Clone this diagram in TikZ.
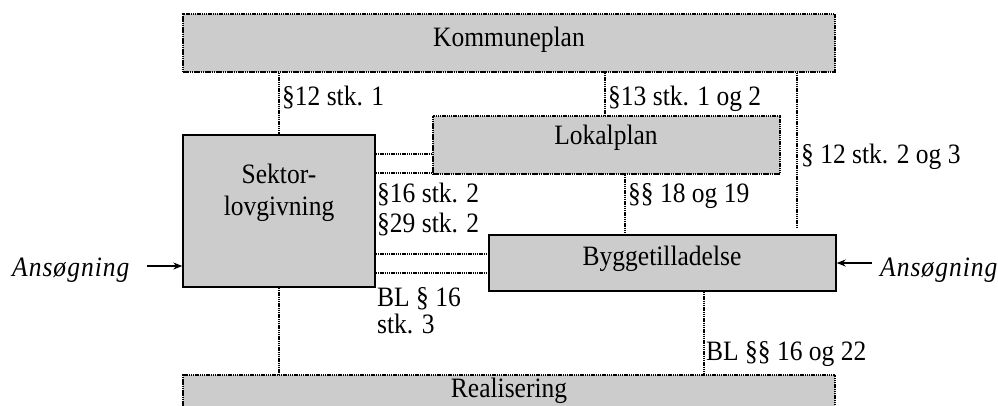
\documentclass[tikz,border=0pt]{standalone}
\usepackage{fontspec}
\setmainfont{Liberation Serif}
\usetikzlibrary{arrows.meta}
\definecolor{boxgray}{RGB}{204,204,204}
\newcommand{\vstretch}[1]{\scalebox{1}[1.1]{#1}}
\tikzset{
  dotbox/.style={draw, fill=boxgray, line width=1.4pt, dash pattern=on 1.5pt off 0.7pt, inner sep=0pt},
  solidbox/.style={draw, fill=boxgray, line width=1.4pt, inner sep=0pt},
  conn/.style={line width=1.1pt, dash pattern=on 1.4pt off 0.8pt},
  arr/.style={line width=1.2pt, -{Stealth[length=9pt,width=7pt]}},
  txt/.style={anchor=base, inner sep=0pt, font=\fontsize{25.5}{30}\selectfont},
  ltxt/.style={anchor=base west, inner sep=0pt, font=\fontsize{25.5}{30}\selectfont},
  itxt/.style={anchor=base west, inner sep=0pt, font=\fontsize{25.5}{30}\selectfont\itshape\addfontfeature{LetterSpace=4}},
}
\begin{document}
\begin{tikzpicture}[x=1pt,y=-1pt]
\useasboundingbox (0,0) rectangle (998,405);
% boxes
\node[dotbox, minimum width=652pt, minimum height=58pt] (komm) at (509,43) {};
\node[dotbox, minimum width=347pt, minimum height=58pt] (lokal) at (606.5,145) {};
\node[solidbox, minimum width=192pt, minimum height=152pt] (sekt) at (279,211) {};
\node[solidbox, minimum width=347pt, minimum height=56pt] (bygg) at (662.5,263) {};
\node[dotbox, minimum width=652pt, minimum height=56pt] (real) at (509,403) {};
% box texts
\node[txt] (tkomm) at (509,46) {\vstretch{Kommuneplan}};
\node[txt] (tlokal) at (606,144) {\vstretch{Lokalplan}};
\node[txt] (tsekt1) at (279,183) {\vstretch{Sektor-}};
\node[txt] (tsekt2) at (279,215) {\vstretch{lovgivning}};
\node[txt] (tbygg) at (662,265) {\vstretch{Byggetilladelse}};
\node[txt] (treal) at (509,397) {\vstretch{Realisering}};
% coordinates for vertical connectors
\coordinate (x605) at (605,0);
\coordinate (x625) at (625,0);
\coordinate (x797) at (797,0);
\coordinate (x704) at (704,0);
\coordinate (e797) at (797,227);
% connectors
\draw[conn] (komm.south -| sekt.north) -- (sekt.north);
\draw[conn] (komm.south -| x605) -- (lokal.north -| x605);
\draw[conn] (komm.south -| x797) -- (e797);
\draw[conn] (lokal.south -| x625) -- (bygg.north -| x625);
\draw[conn] (sekt.south) -- (real.north -| sekt.south);
\draw[conn] (bygg.south -| x704) -- (real.north -| x704);
\coordinate (y154) at (0,154);
\coordinate (y173) at (0,173);
\coordinate (y254) at (0,254);
\coordinate (y273) at (0,273);
\draw[conn] (sekt.east |- y154) -- (lokal.west |- y154);
\draw[conn] (sekt.east |- y173) -- (lokal.west |- y173);
\draw[conn] (sekt.east |- y254) -- (bygg.west |- y254);
\draw[conn] (sekt.east |- y273) -- (bygg.west |- y273);
% labels
\node[ltxt] (l1) at (282,105) {\vstretch{§12 stk. 1}};
\node[ltxt] (l2) at (608,105) {\vstretch{§13 stk. 1 og 2}};
\node[ltxt] (l3) at (801,163) {\vstretch{§ 12 stk. 2 og 3}};
\node[ltxt] (l4) at (377,202) {\vstretch{§16 stk. 2}};
\node[ltxt] (l5) at (377,232) {\vstretch{§29 stk. 2}};
\node[ltxt] (l6) at (628,202) {\vstretch{§§ 18 og 19}};
\node[ltxt] (l7) at (377,306) {\vstretch{BL § 16}};
\node[ltxt] (l8) at (377,333) {\vstretch{stk. 3}};
\node[ltxt] (l9) at (706,360) {\vstretch{BL §§ 16 og 22}};
% Ansøgning
\node[itxt] (ansL) at (12,276) {\vstretch{Ansøgning}};
\node[itxt] (ansR) at (880,276) {\vstretch{Ansøgning}};
\coordinate (aL) at (147,266);
\coordinate (aR) at (872,263);
\draw[arr] (aL) -- (aL -| sekt.west);
\draw[arr] (aR) -- (aR -| bygg.east);
\end{tikzpicture}
\end{document}
